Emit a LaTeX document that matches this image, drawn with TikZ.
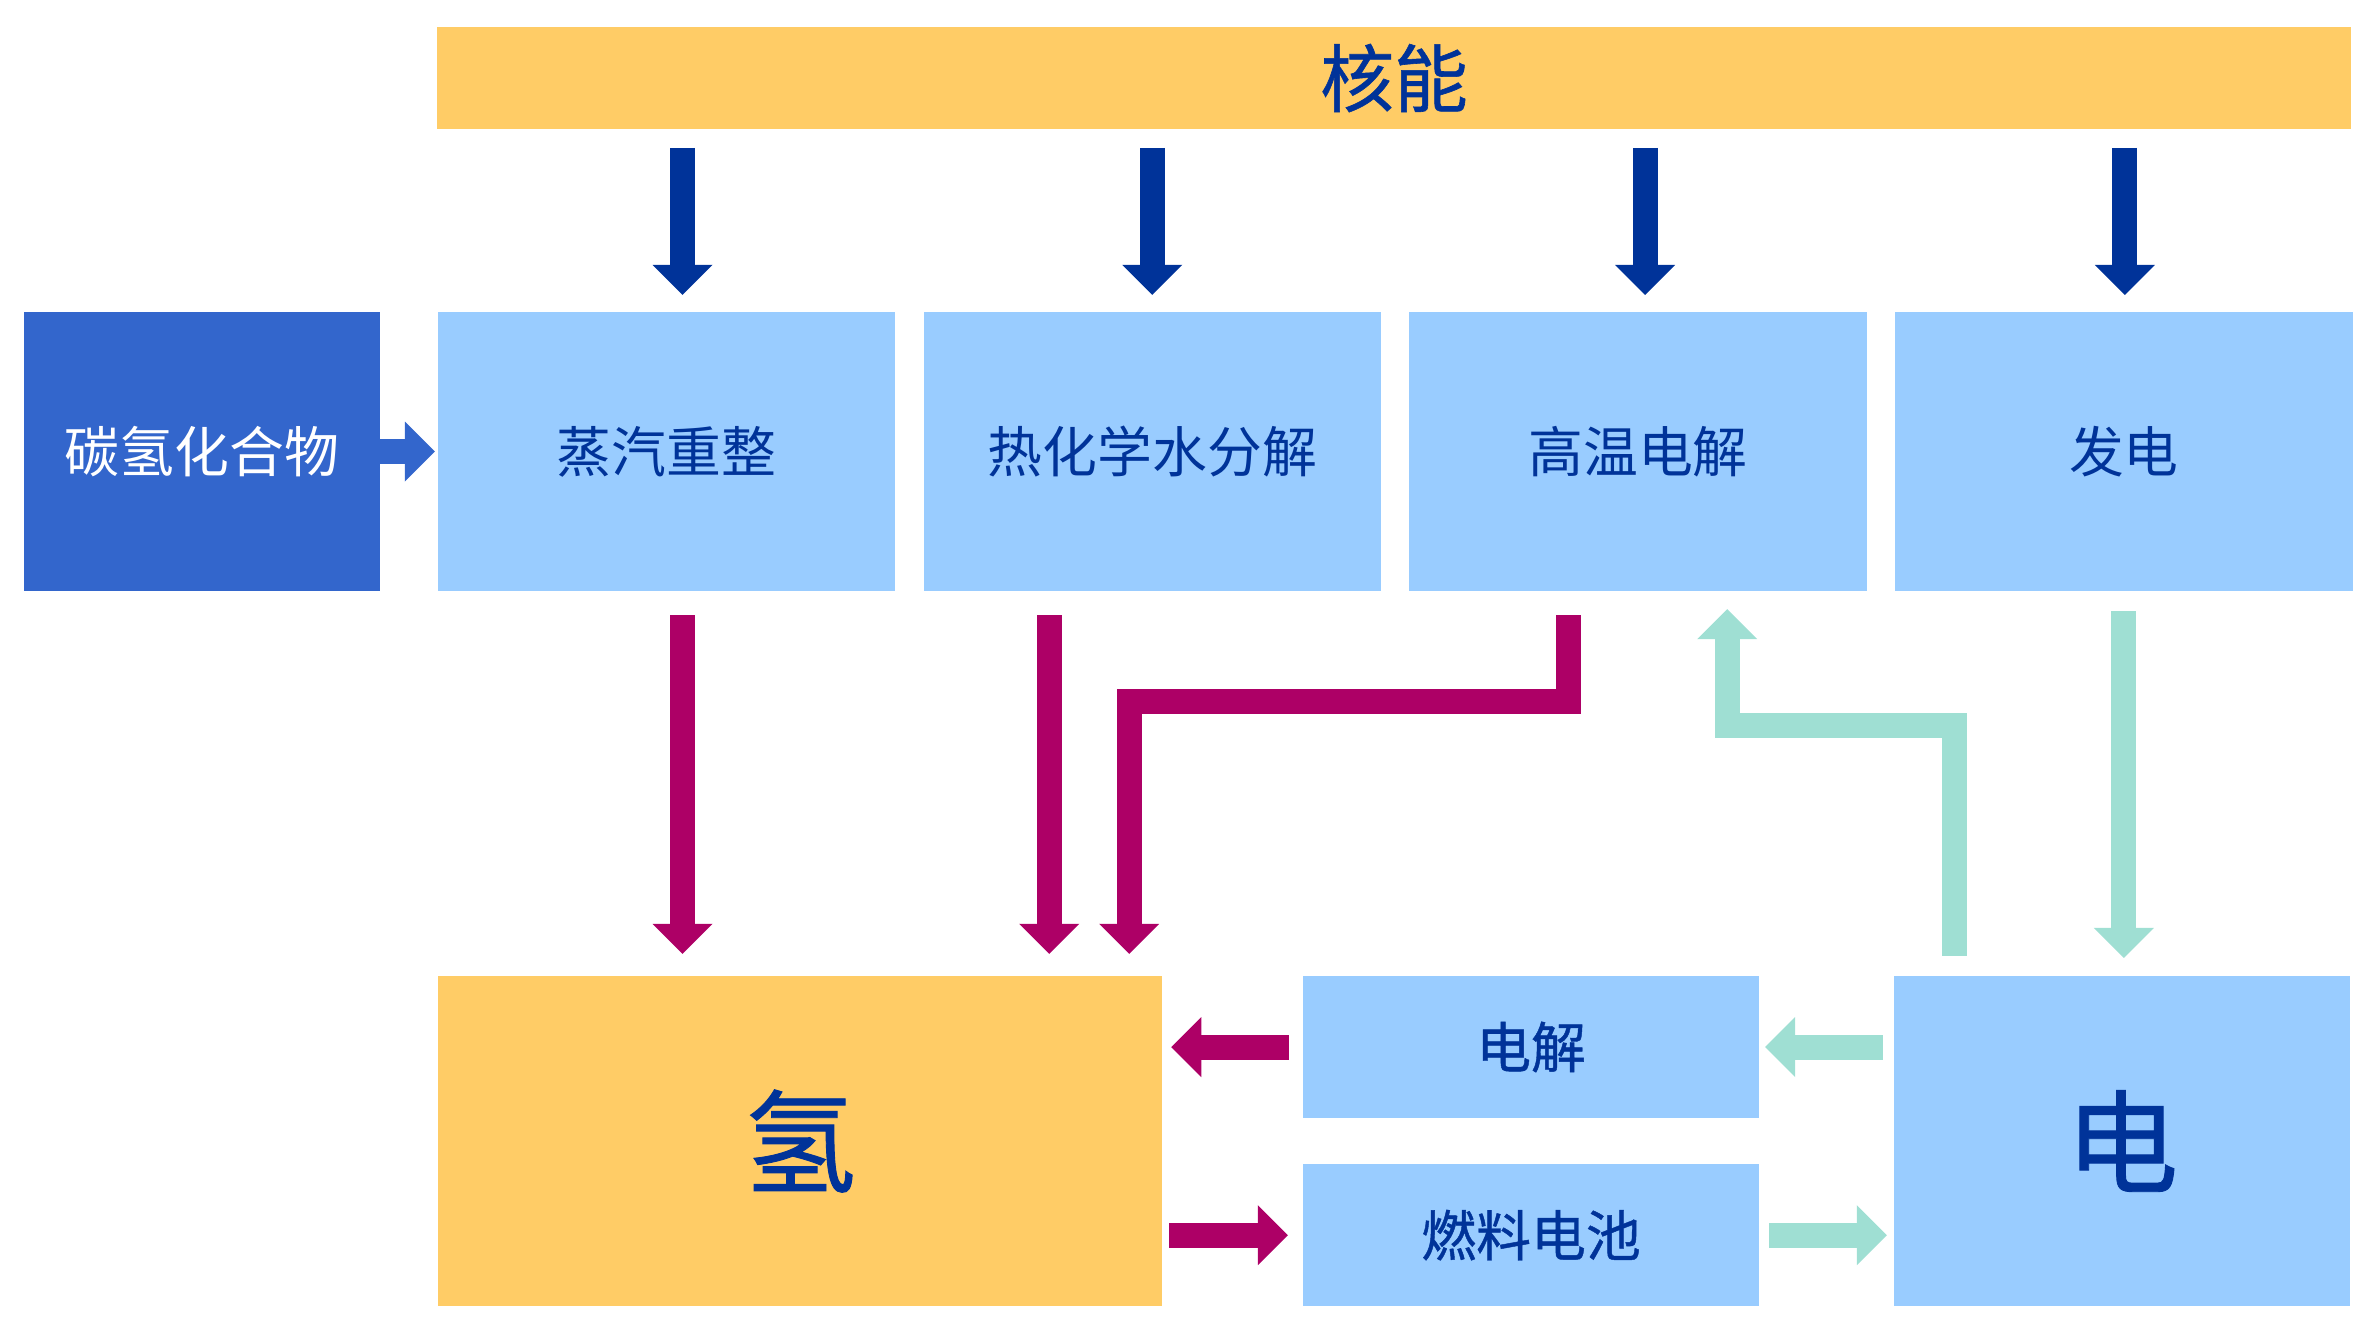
\documentclass[tikz,border=0pt]{standalone}
\usepackage{fontspec}
\usepackage{xcolor}
\usepackage{tikz}
\usetikzlibrary{arrows.meta,positioning,calc}
\newfontfamily\cjk{Noto Sans CJK SC}
\newfontfamily\cjkb[FakeBold=0.8]{Noto Sans CJK SC}
\definecolor{barorange}{RGB}{255,204,102}
\definecolor{boxblue}{RGB}{153,204,255}
\definecolor{hcblue}{RGB}{51,102,204}
\definecolor{inkblue}{RGB}{0,51,153}
\definecolor{hred}{RGB}{173,0,102}
\definecolor{eteal}{RGB}{159,223,211}

\begin{document}
\begin{tikzpicture}[
    x=0.01cm, y=-0.01cm,
    node distance=0.285cm,
    box/.style={rectangle, fill=boxblue, inner sep=0pt, outer sep=0pt, minimum width=4.57cm, minimum height=2.79cm, text=inkblue, font=\cjk\fontsize{15.6}{19}\selectfont},
    bigbox/.style={box, minimum width=4.56cm, minimum height=3.30cm, font=\cjkb\fontsize{32}{36}\selectfont},
    slimbox/.style={box, minimum width=4.56cm, minimum height=1.42cm, font=\cjkb\fontsize{15.6}{19}\selectfont},
    fatarrow/.style={line width=0.25cm, -{Triangle[width=0.6cm, length=0.3cm, line width=0pt]}},
    downarr/.style={fatarrow, draw=inkblue, shorten <=0.18cm, shorten >=0.17cm},
    redarr/.style={fatarrow, draw=hred, shorten <=0.24cm, shorten >=0.22cm},
    tealarr/.style={fatarrow, draw=eteal, shorten <=0.20cm, shorten >=0.18cm}
]
    \useasboundingbox (0,0) rectangle (2376,1335);

    \node[fill=barorange, inner sep=0pt, minimum width=19.12cm, minimum height=1.02cm, text=inkblue, font=\cjkb\fontsize{21}{24}\selectfont] (nuc) at (1394,78) {核能};

    \node[box, fill=hcblue, text=white, minimum width=3.56cm] (hc) at (202,451.5) {碳氢化合物};
    \node[box] (smr) at (666.5,451.5) {蒸汽重整};
    \node[box, right=of smr] (tc) {热化学水分解};
    \node[box, right=of tc] (hte) {高温电解};
    \node[box, right=of hte] (pg) {发电};

    \node[bigbox, fill=barorange, minimum width=7.24cm] (h2) at (800,1141) {氢};
    \node[slimbox] (ely) at (1531,1047) {电解};
    \node[slimbox, below=0.46cm of ely] (fc) {燃料电池};
    \node[bigbox] (el) at (2122,1141) {电};

    % nuclear energy feeds every route
    \foreach \b/\dx in {smr/0.16, tc/0, hte/0.07, pg/0.01}
        \draw[downarr] ([xshift=\dx cm]\b.north |- nuc.south) -- ([xshift=\dx cm]\b.north);
    \draw[fatarrow, draw=hcblue, shorten >=0.03cm] (hc.east) -- (smr.west);

    % hydrogen paths
    \draw[redarr] ([xshift=0.16cm]smr.south) -- ([xshift=0.16cm]smr.south |- h2.north);
    \draw[redarr] ([xshift=-1.03cm]tc.south) -- ([xshift=-1.03cm]tc.south |- h2.north);
    \draw[redarr] ([xshift=-0.70cm]hte.south) -- ++(0,110) -| ([xshift=3.29cm]h2.north);
    \draw[redarr, shorten <=0.14cm, shorten >=0.09cm] (ely.west) -- (ely.west -| h2.east);
    \draw[redarr, shorten <=0.07cm, shorten >=0.15cm] (fc.west -| h2.east) -- (fc.west);

    % electricity paths
    \draw[tealarr] (pg.south) -- (pg.south |- el.north);
    \draw[tealarr] ([xshift=-1.67cm]el.north) -- ++(0,-250) -| ([xshift=0.89cm]hte.south);
    \draw[tealarr, shorten <=0.11cm, shorten >=0.06cm] (ely.east -| el.west) -- (ely.east);
    \draw[tealarr, shorten <=0.10cm, shorten >=0.07cm] (fc.east) -- (fc.east -| el.west);
\end{tikzpicture}
\end{document}
